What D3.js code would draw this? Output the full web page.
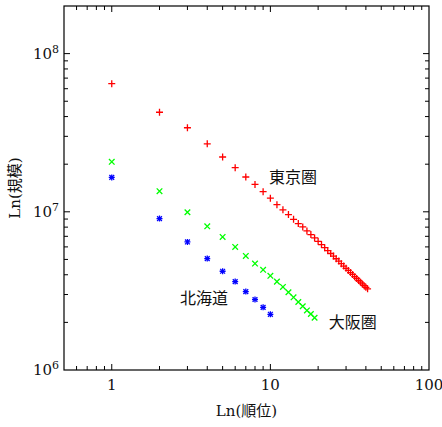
<!DOCTYPE html>
<html>
<head>
<meta charset="utf-8">
<script src="https://cdn.jsdelivr.net/npm/d3@7"></script>
<style>
  body { margin: 0; background: #fff; }
  svg text { font-family: "DejaVu Serif", "Noto Sans CJK JP", serif; fill: #111; }
</style>
</head>
<body>
<svg id="chart" width="442" height="427"></svg>
<script>
// 順位 vs 規模 (log-log)
const tokyoRank = d3.range(1, 42);
const tokyoSize = [6.46e7, 4.26e7, 3.40e7, 2.69e7, 2.22e7, 1.90e7, 1.66e7, 1.49e7, 1.34e7, 1.22e7,
                   1.11e7, 1.03e7, 9.60e6, 8.97e6, 8.42e6, 8.03e6, 7.57e6, 7.18e6, 6.84e6, 6.51e6,
                   6.21e6, 5.93e6, 5.69e6, 5.45e6, 5.25e6, 5.05e6, 4.88e6, 4.70e6, 4.54e6, 4.39e6,
                   4.26e6, 4.13e6, 4.02e6, 3.89e6, 3.79e6, 3.68e6, 3.59e6, 3.50e6, 3.41e6, 3.33e6,
                   3.26e6];
const osakaRank = d3.range(1, 20);
const osakaSize = [2.07e7, 1.35e7, 9.94e6, 8.10e6, 6.94e6, 6.00e6, 5.26e6, 4.71e6, 4.30e6, 3.94e6,
                   3.62e6, 3.35e6, 3.10e6, 2.88e6, 2.69e6, 2.53e6, 2.38e6, 2.26e6, 2.14e6];
const hokkaidoRank = d3.range(1, 11);
const hokkaidoSize = [1.65e7, 9.06e6, 6.45e6, 5.06e6, 4.21e6, 3.62e6, 3.13e6, 2.79e6, 2.49e6, 2.25e6];

const xTickLabels = ["1", "10", "100"];
const yTickExps = ["6", "7", "8"];

const svg = d3.select("#chart");
const pL = 64, pR = 429, pT = 6, pB = 370;

const x = d3.scaleLog().domain([0.5, 100]).range([pL, pR]);
const y = d3.scaleLog().domain([1e6, 2e8]).range([pB, pT]);

// 枠
svg.append("rect")
    .attr("x", pL).attr("y", pT)
    .attr("width", pR - pL).attr("height", pB - pT)
    .attr("fill", "none").attr("stroke", "#000").attr("stroke-width", 1.2);

const isMajor = v => Math.abs(Math.log10(v) - Math.round(Math.log10(v))) < 1e-9;

// 目盛り (4辺, 内向き)
const ticks = svg.append("g").attr("stroke", "#000").attr("stroke-width", 1);
x.ticks().filter(v => v > 0.5 && v < 100).forEach(v => {
    const len = isMajor(v) ? 6 : 4;
    ticks.append("line").attr("x1", x(v)).attr("x2", x(v)).attr("y1", pB).attr("y2", pB - len);
    ticks.append("line").attr("x1", x(v)).attr("x2", x(v)).attr("y1", pT).attr("y2", pT + len);
});
y.ticks().filter(v => v > 1e6 && v < 2e8).forEach(v => {
    const len = isMajor(v) ? 6 : 4;
    ticks.append("line").attr("y1", y(v)).attr("y2", y(v)).attr("x1", pL).attr("x2", pL + len);
    ticks.append("line").attr("y1", y(v)).attr("y2", y(v)).attr("x1", pR).attr("x2", pR - len);
});

// x 目盛りラベル
xTickLabels.forEach(t => {
    svg.append("text")
        .attr("x", x(+t)).attr("y", pB + 20)
        .attr("text-anchor", "middle")
        .style("font-size", "15px")
        .text(t);
});

// y 目盛りラベル 10^n
yTickExps.forEach(e => {
    const t = svg.append("text")
        .attr("x", pL - 5).attr("y", y(Math.pow(10, +e)) + 5)
        .attr("text-anchor", "end")
        .style("font-size", "15px");
    t.append("tspan").text("10");
    t.append("tspan").attr("dy", -6).style("font-size", "11px").text(e);
});

// 軸タイトル
svg.append("text")
    .attr("x", (pL + pR) / 2).attr("y", 416)
    .attr("text-anchor", "middle")
    .style("font-size", "15px")
    .text("Ln(順位)");
svg.append("text")
    .attr("transform", `translate(20, ${(pT + pB) / 2}) rotate(-90)`)
    .attr("text-anchor", "middle")
    .style("font-size", "15px")
    .text("Ln(規模)");

// マーカー
function plus(g, px, py, r, color) {
    g.append("path")
        .attr("d", `M${px - r},${py}H${px + r}M${px},${py - r}V${py + r}`)
        .attr("stroke", color).attr("stroke-width", 1.3).attr("fill", "none");
}
function cross(g, px, py, r, color) {
    g.append("path")
        .attr("d", `M${px - r},${py - r}L${px + r},${py + r}M${px - r},${py + r}L${px + r},${py - r}`)
        .attr("stroke", color).attr("stroke-width", 1.3).attr("fill", "none");
}

const marks = svg.append("g");
tokyoRank.forEach((r, i) => plus(marks, x(r), y(tokyoSize[i]), 3.5, "#ff0000"));
osakaRank.forEach((r, i) => cross(marks, x(r), y(osakaSize[i]), 2.8, "#00ff00"));
hokkaidoRank.forEach((r, i) => {
    plus(marks, x(r), y(hokkaidoSize[i]), 3, "#0000ff");
    cross(marks, x(r), y(hokkaidoSize[i]), 2.4, "#0000ff");
});

// 系列ラベル
const seriesLabels = [
    { text: "東京圏", rank: 13.9, size: 1.68e7 },
    { text: "北海道", rank: 3.82, size: 2.91e6 },
    { text: "大阪圏", rank: 33.1, size: 2.04e6 }
];
seriesLabels.forEach(d => {
    svg.append("text")
        .attr("x", x(d.rank)).attr("y", y(d.size))
        .attr("text-anchor", "middle")
        .attr("dominant-baseline", "central")
        .style("font-family", "'Noto Sans CJK JP', sans-serif")
        .style("font-size", "16px")
        .text(d.text);
});
</script>
</body>
</html>
